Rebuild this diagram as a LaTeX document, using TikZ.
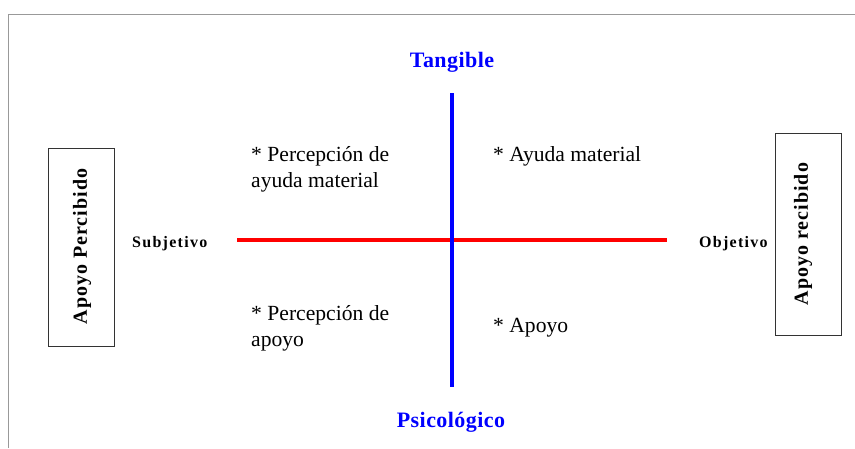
\documentclass[tikz,border=0pt]{standalone}
\usepackage{fontspec}
\setmainfont{Liberation Serif}
\newfontfamily\spacedbold[LetterSpace=8]{Liberation Serif Bold}
\newfontfamily\boxbold[LetterSpace=5]{Liberation Serif Bold}
\newfontfamily\axisbold[LetterSpace=2]{Liberation Serif Bold}
\begin{document}
\begin{tikzpicture}[x=1pt,y=-1pt,
  axislabel/.style={inner sep=0pt,text=blue,font=\fontsize{22}{26}\selectfont\axisbold},
  sidelabel/.style={inner sep=0pt,font=\fontsize{16}{19}\selectfont\spacedbold},
  boxed/.style={draw=black!80,line width=0.8pt,minimum width=66pt,inner sep=0pt},
  boxtext/.style={rotate=90,inner sep=0pt,font=\fontsize{20}{24}\selectfont\boxbold},
  quad/.style={inner sep=0pt,align=left,anchor=north west,font=\fontsize{21.6}{26.5}\selectfont}]
\useasboundingbox (0,0) rectangle (855,448);
% outer frame (top and left edges visible)
\draw[black!40,line width=1.5pt] (8.5,448) -- (8.5,14.5) -- (855,14.5);
% axes
\coordinate (vt) at (452,93);
\coordinate (vb) at (452,387);
\coordinate (hl) at (237,240);
\coordinate (hr) at (667,240);
\draw[red,line width=4pt] (hl) -- (hr);
\draw[blue,line width=4pt] (vt) -- (vb);
% axis labels
\node[axislabel] (tang) at (452,62) {Tangible};
\node[axislabel] (psic) at (451,422) {Psicológico};
\node[sidelabel,anchor=west] (subj) at (132,244) {Subjetivo};
\node[sidelabel,anchor=west] (obj) at (699,244) {Objetivo};
% side boxes
\node[boxed,minimum height=198pt] (lbox) at (81,247) {};
\node[boxtext] (ltext) at (82,246.5) {Apoyo Percibido};
\node[boxed,minimum height=202pt] (rbox) at (808.5,234) {};
\node[boxtext] (rtext) at (803,234) {Apoyo recibido};
% quadrant texts
\node[quad] (q1) at (251,146) {* Percepción de\\ayuda material};
\node[quad] (q2) at (493,146) {* Ayuda material};
\node[quad] (q3) at (251,305) {* Percepción de\\apoyo};
\node[quad] (q4) at (493,318) {* Apoyo};
\end{tikzpicture}
\end{document}
